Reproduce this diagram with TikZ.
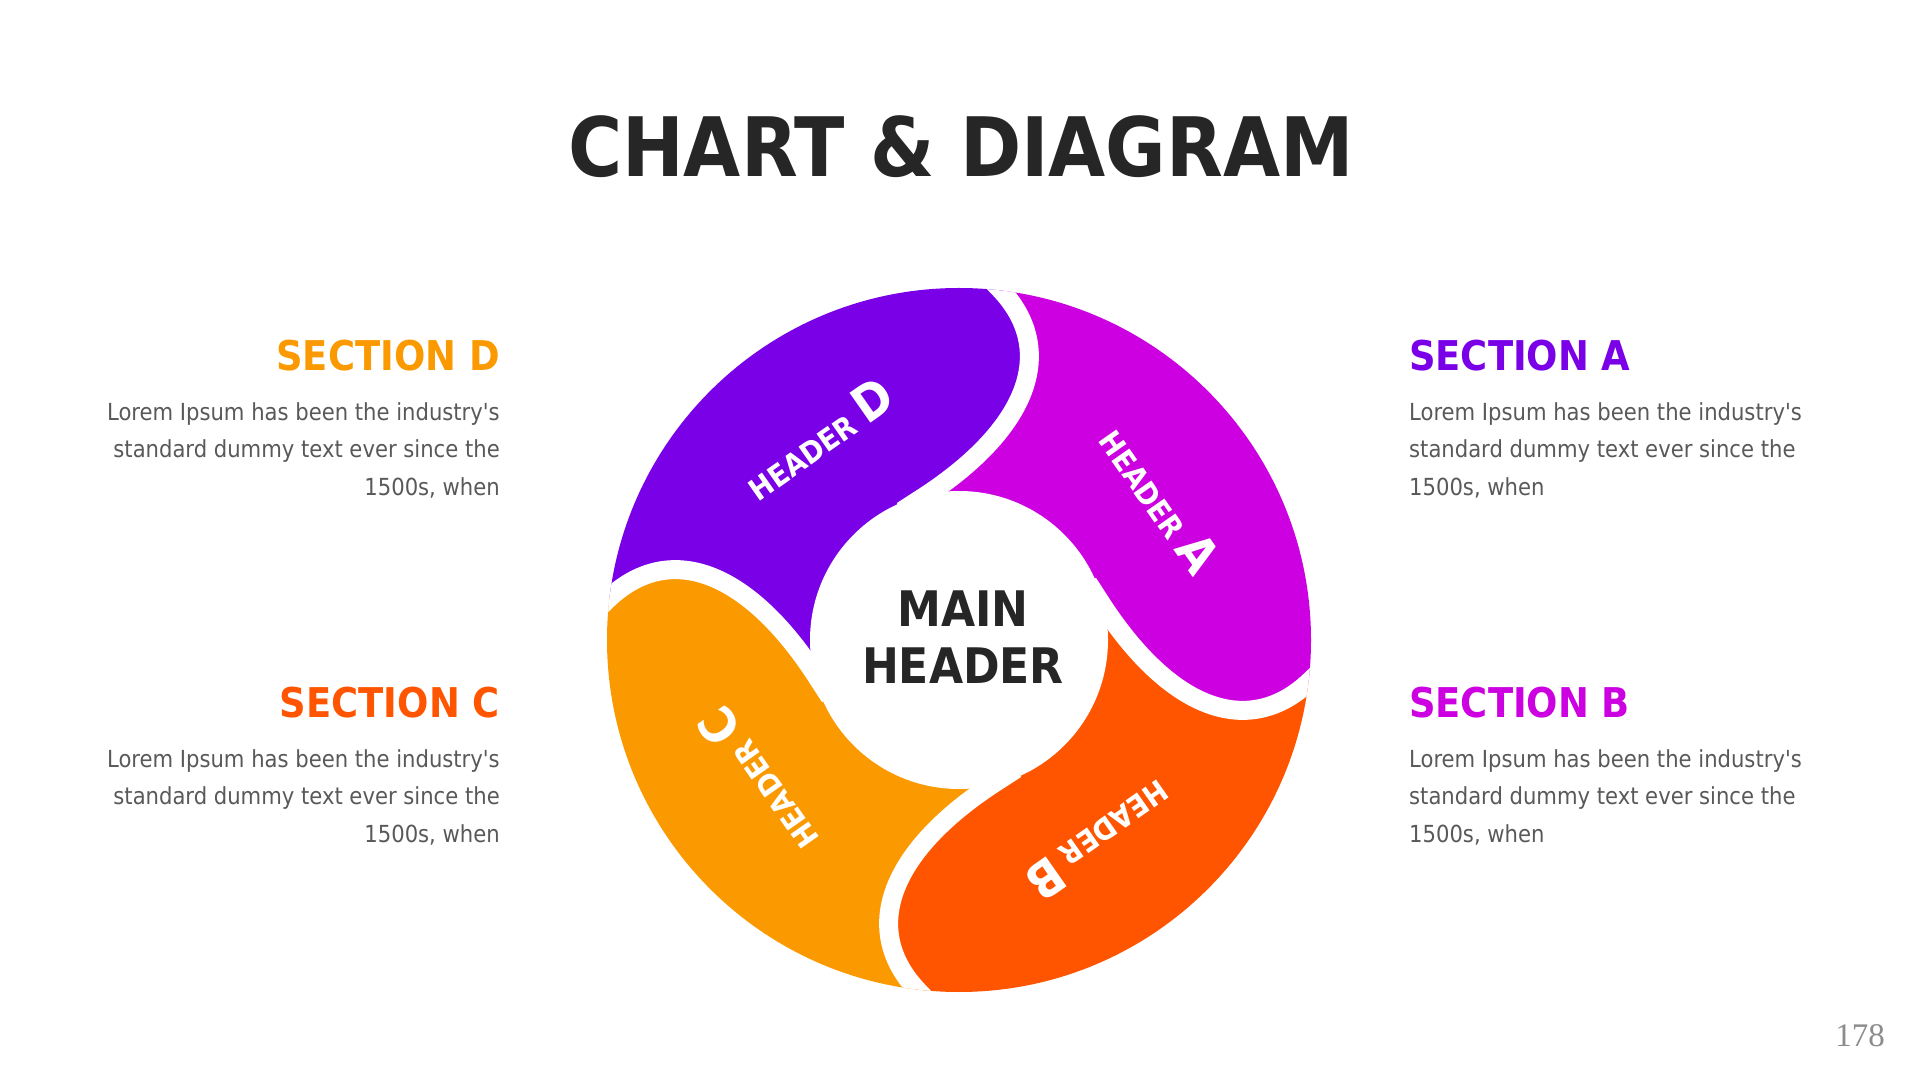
\documentclass[tikz,border=0pt]{standalone}
\usepackage{fontspec}
\setmainfont{DejaVu Sans Condensed}
\newfontfamily\bodyfont{DejaVu Sans Condensed}
\newfontfamily\numfont{Liberation Serif}
\definecolor{cD}{HTML}{7A00E8}
\definecolor{cA}{HTML}{CC00E0}
\definecolor{cB}{HTML}{FF5500}
\definecolor{cC}{HTML}{FB9900}
\definecolor{ink}{HTML}{262626}
\definecolor{bodygray}{HTML}{595959}
\definecolor{pnum}{HTML}{8C8C8C}
\tikzset{
  bodytext/.style={font=\bodyfont\fontsize{23.5}{37.5}\selectfont, text=bodygray, inner sep=0pt},
  sechead/.style={font=\bfseries\fontsize{41}{48}\selectfont, inner sep=0pt},
  seglabel/.style={text=white, inner sep=0pt, font=\bfseries\fontsize{30}{36}\selectfont},
  gapline/.style={white, line width=19pt},
}
\begin{document}
\begin{tikzpicture}[x=1pt,y=1pt]
\useasboundingbox[fill=white] (0,0) rectangle (1920,1080);

% title
\node[font=\bfseries\fontsize{82}{100}\selectfont, text=ink, inner sep=0pt] (title) at (961,933) {CHART \& DIAGRAM};

% ring segments
\begin{scope}
  \clip (959,440) circle (352);
  \foreach \ang/\col in {0/cD,-90/cA,-180/cB,-270/cC}{
    \begin{scope}[shift={(959,440)}, rotate=\ang]
      \fill[\col] (-374,19) -- (-352,40) .. controls (-290,100) and (-210,70) .. (-140,-40)
        -- (0,0) -- (-40,140) .. controls (70,210) and (100,290) .. (40,352) -- (19,374)
        -- (-420,420) -- cycle;
    \end{scope}
  }
  \foreach \ang in {0,-90,-180,-270}{
    \begin{scope}[shift={(959,440)}, rotate=\ang]
      \draw[gapline] (-374,19) -- (-352,40) .. controls (-290,100) and (-210,70) .. (-140,-40) -- (-129,-57);
    \end{scope}
  }
\end{scope}
\fill[white] (959,440) circle (149);

% segment labels
\begin{scope}[shift={(959,440)}]
  \node[seglabel, rotate=-55] (hA) at (35:246) {HEADER {\fontsize{50}{50}\selectfont A}};
  \node[seglabel, rotate=215] (hB) at (305:246) {HEADER {\fontsize{50}{50}\selectfont B}};
  \node[seglabel, rotate=125] (hC) at (215:246) {HEADER {\fontsize{50}{50}\selectfont C}};
  \node[seglabel, rotate=35] (hD) at (125:246) {HEADER {\fontsize{50}{50}\selectfont D}};
\end{scope}

% main header
\node[font=\bfseries\fontsize{49}{57}\selectfont, text=ink, align=center, inner sep=0pt] (main) at (963,443) {MAIN\\HEADER};

% left sections
\node[sechead, text=cC, anchor=base east] (secD) at (500,709) {SECTION D};
\node[bodytext, align=right, anchor=north east] (txtD) at (500,678) {Lorem Ipsum has been the industry's\\standard dummy text ever since the\\1500s, when};
\node[sechead, text=cB, anchor=base east] (secC) at (500,362) {SECTION C};
\node[bodytext, align=right, anchor=north east] (txtC) at (500,331) {Lorem Ipsum has been the industry's\\standard dummy text ever since the\\1500s, when};

% right sections
\node[sechead, text=cD, anchor=base west] (secA) at (1409,709) {SECTION A};
\node[bodytext, align=left, anchor=north west] (txtA) at (1409,678) {Lorem Ipsum has been the industry's\\standard dummy text ever since the\\1500s, when};
\node[sechead, text=cA, anchor=base west] (secB) at (1409,362) {SECTION B};
\node[bodytext, align=left, anchor=north west] (txtB) at (1409,331) {Lorem Ipsum has been the industry's\\standard dummy text ever since the\\1500s, when};

% page number
\node[font=\numfont\fontsize{33}{36}\selectfont, text=pnum, inner sep=0pt] (pg) at (1860,44) {178};
\end{tikzpicture}
\end{document}
